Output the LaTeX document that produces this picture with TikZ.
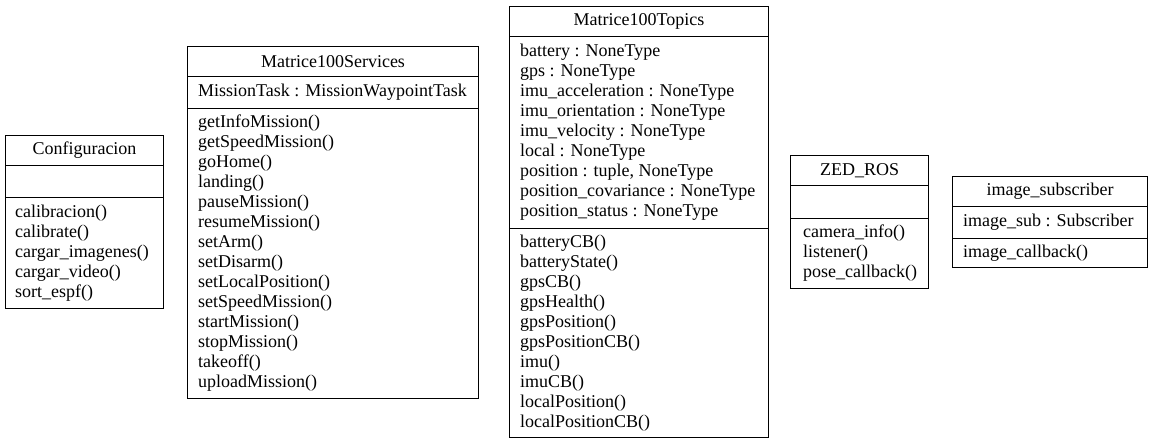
\documentclass[tikz,border=0pt]{standalone}
\usepackage{fontspec}
\setmainfont{Liberation Serif}
\newcommand\umlfont{\fontsize{18}{20}\selectfont}
\tikzset{
  umlbox/.style={draw=black, line width=1pt, anchor=north west, inner sep=0pt, font=\umlfont},
  umltxt/.style={anchor=west, inner sep=0pt, align=left, font=\umlfont}
}
\begin{document}
\begin{tikzpicture}[x=1pt,y=-1pt]
\useasboundingbox (0,0) rectangle (1151,444);
% Configuracion
\node[umlbox, minimum width=158, minimum height=30] (cfgH) at (5,135) {Configuracion};
\node[umlbox, minimum width=158, minimum height=32] (cfgA) at (5,165) {};
\node[umlbox, minimum width=158, minimum height=111] (cfgM) at (5,197) {};
\node[umltxt, xshift=10pt] (cfgMt) at (cfgM.west) {calibracion()\\calibrate()\\cargar\_imagenes()\\cargar\_video()\\sort\_espf()};
% Matrice100Services
\node[umlbox, minimum width=291, minimum height=30] (svcH) at (187,46) {Matrice100Services};
\node[umlbox, minimum width=291, minimum height=32] (svcA) at (187,76) {};
\node[umltxt, xshift=11pt] (svcAt) at (svcA.west) {MissionTask : MissionWaypointTask};
\node[umlbox, minimum width=291, minimum height=290] (svcM) at (187,108) {};
\node[umltxt, xshift=11pt] (svcMt) at (svcM.west) {getInfoMission()\\getSpeedMission()\\goHome()\\landing()\\pauseMission()\\resumeMission()\\setArm()\\setDisarm()\\setLocalPosition()\\setSpeedMission()\\startMission()\\stopMission()\\takeoff()\\uploadMission()};
% Matrice100Topics
\node[umlbox, minimum width=259, minimum height=30] (topH) at (509,6) {Matrice100Topics};
\node[umlbox, minimum width=259, minimum height=192] (topA) at (509,36) {};
\node[umltxt, xshift=11pt] (topAt) at (topA.west) {battery : NoneType\\gps : NoneType\\imu\_acceleration : NoneType\\imu\_orientation : NoneType\\imu\_velocity : NoneType\\local : NoneType\\position : tuple, NoneType\\position\_covariance : NoneType\\position\_status : NoneType};
\node[umlbox, minimum width=259, minimum height=209] (topM) at (509,228) {};
\node[umltxt, xshift=11pt] (topMt) at (topM.west) {batteryCB()\\batteryState()\\gpsCB()\\gpsHealth()\\gpsPosition()\\gpsPositionCB()\\imu()\\imuCB()\\localPosition()\\localPositionCB()};
% ZED_ROS
\node[umlbox, minimum width=138, minimum height=30] (zedH) at (790,155) {ZED\_ROS};
\node[umlbox, minimum width=138, minimum height=33] (zedA) at (790,185) {};
\node[umlbox, minimum width=138, minimum height=70] (zedM) at (790,218) {};
\node[umltxt, xshift=13pt] (zedMt) at (zedM.west) {camera\_info()\\listener()\\pose\_callback()};
% image_subscriber
\node[umlbox, minimum width=195, minimum height=30] (imgH) at (952,176) {image\_subscriber};
\node[umlbox, minimum width=195, minimum height=32] (imgA) at (952,206) {};
\node[umltxt, xshift=11pt] (imgAt) at (imgA.west) {image\_sub : Subscriber};
\node[umlbox, minimum width=195, minimum height=29] (imgM) at (952,238) {};
\node[umltxt, xshift=11pt] (imgMt) at (imgM.west) {image\_callback()};
\end{tikzpicture}
\end{document}
